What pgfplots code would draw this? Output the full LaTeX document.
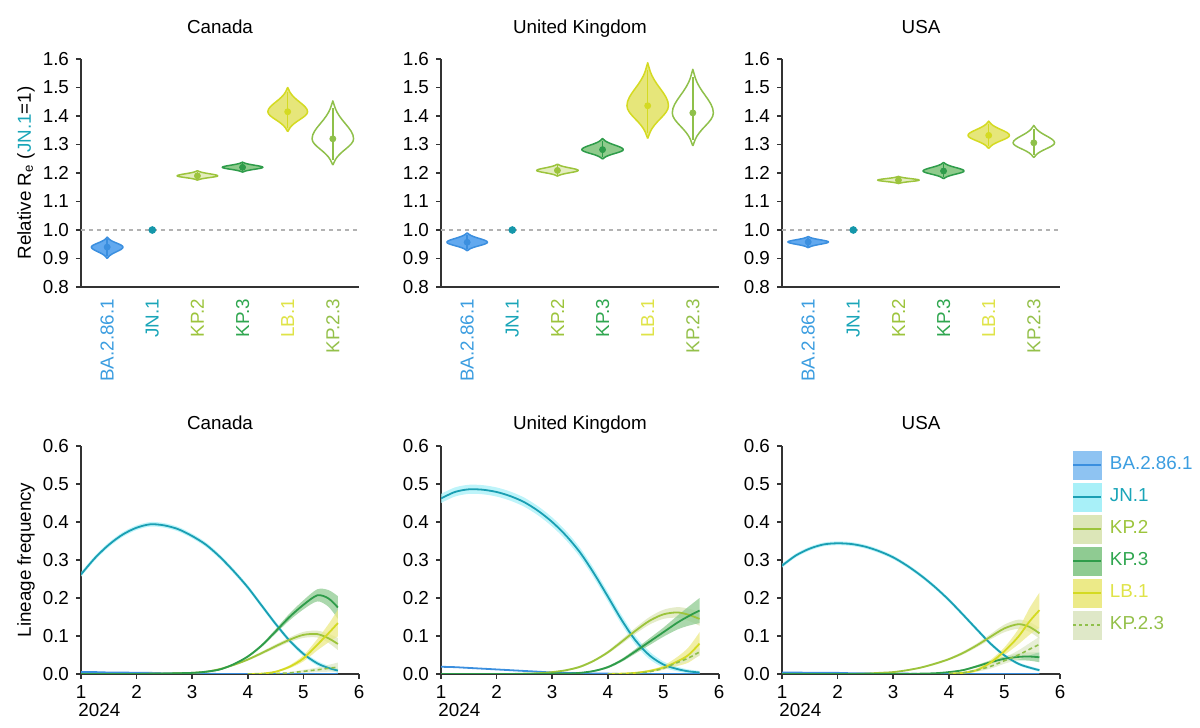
\documentclass[border=0pt]{standalone}
\usepackage{fontspec}
\setmainfont{Liberation Sans}
\usepackage{pgfplots}
\pgfplotsset{compat=1.18}
\usepackage{pgfplotstable}

\definecolor{axc}{HTML}{333333}
\definecolor{bal}{HTML}{3B8FDF}
\definecolor{baf}{HTML}{62A9EF}
\definecolor{bab}{HTML}{8EC3F2}
\definecolor{bat}{HTML}{3B9DE0}
\definecolor{jnl}{HTML}{1A9FB3}
\definecolor{jnd}{HTML}{1597AA}
\definecolor{jnb}{HTML}{A8F0F8}
\definecolor{jnt}{HTML}{1AA5B8}
\definecolor{kp2l}{HTML}{9CC43C}
\definecolor{kp2f}{HTML}{E4EDBF}
\definecolor{kp2b}{HTML}{DCE6B8}
\definecolor{kp2t}{HTML}{9CC43C}
\definecolor{kp3l}{HTML}{2E9C4A}
\definecolor{kp3f}{HTML}{8FCB8C}
\definecolor{kp3b}{HTML}{8FCB92}
\definecolor{kp3t}{HTML}{2FA64F}
\definecolor{lbl}{HTML}{D4DA22}
\definecolor{lbf}{HTML}{E6E67A}
\definecolor{lbb}{HTML}{ECEA88}
\definecolor{lbt}{HTML}{DFE347}
\definecolor{k23l}{HTML}{8FC04A}
\definecolor{k23b}{HTML}{DFE8C8}
\definecolor{k23t}{HTML}{94C04A}

\newcommand\fsz{\fontsize{9.4pt}{11pt}\selectfont}

% normalised violin outline (t in sigma units, f relative half-width)
\pgfplotstableread{
t f
-2.5 0
-2.25 0.060
-2 0.120
-1.75 0.205
-1.5 0.318
-1.25 0.452
-1 0.603
-0.75 0.752
-0.5 0.881
-0.25 0.969
0 1
0.25 0.969
0.5 0.881
0.75 0.752
1 0.603
1.25 0.452
1.5 0.318
1.75 0.205
2 0.120
2.25 0.060
2.5 0
2.25 -0.060
2 -0.120
1.75 -0.205
1.5 -0.318
1.25 -0.452
1 -0.603
0.75 -0.752
0.5 -0.881
0.25 -0.969
0 -1
-0.25 -0.969
-0.5 -0.881
-0.75 -0.752
-1 -0.603
-1.25 -0.452
-1.5 -0.318
-1.75 -0.205
-2 -0.120
-2.25 -0.060
-2.5 0
}\vshape
\pgfplotstableread{
t f
-2.05 0
2.05 0
}\vint

\pgfplotstableread{
x ba jn jne kp2 kp2e kp3 kp3e lb lbe k23 k23e
1 0.005 0.262 0.006 0 0 0 0 0 0 0 0
1.25 0.005 0.305 0.006 0 0 0 0 0 0 0 0
1.5 0.004 0.340 0.006 0 0 0 0 0 0 0 0
1.75 0.004 0.367 0.006 0 0 0 0 0 0 0 0
2 0.003 0.385 0.006 0 0 0 0 0 0 0 0
2.25 0.003 0.394 0.006 0.001 0 0 0 0 0 0 0
2.5 0.002 0.391 0.006 0.001 0 0.001 0 0 0 0 0
2.75 0.002 0.381 0.006 0.002 0.001 0.002 0.001 0 0 0 0
3 0.001 0.363 0.006 0.003 0.001 0.003 0.001 0 0 0 0
3.25 0.001 0.340 0.006 0.006 0.001 0.006 0.001 0 0 0 0
3.5 0 0.308 0.006 0.013 0.002 0.012 0.002 0 0 0 0
3.75 0 0.270 0.006 0.024 0.002 0.026 0.002 0 0 0 0
4 0 0.228 0.006 0.038 0.003 0.046 0.003 0 0 0 0
4.25 0 0.180 0.006 0.055 0.004 0.075 0.004 0.001 0.001 0 0
4.5 0 0.132 0.006 0.073 0.005 0.112 0.006 0.006 0.002 0.001 0.001
4.75 0 0.088 0.006 0.090 0.006 0.150 0.009 0.019 0.004 0.003 0.002
5 0 0.053 0.006 0.103 0.008 0.182 0.012 0.041 0.008 0.007 0.004
5.25 0 0.028 0.006 0.105 0.009 0.207 0.016 0.077 0.015 0.011 0.006
5.45 0 0.016 0.006 0.094 0.012 0.199 0.022 0.107 0.024 0.015 0.009
5.62 0 0.009 0.006 0.079 0.016 0.175 0.030 0.134 0.035 0.018 0.012
}\canada

\pgfplotstableread{
x ba jn jne kp2 kp2e kp3 kp3e lb lbe k23 k23e
1 0.019 0.462 0.012 0 0 0 0 0 0 0 0
1.25 0.018 0.479 0.012 0 0 0 0 0 0 0 0
1.5 0.016 0.486 0.012 0 0 0 0 0 0 0 0
1.75 0.014 0.485 0.012 0 0 0 0 0 0 0 0
2 0.012 0.479 0.012 0 0 0 0 0 0 0 0
2.25 0.010 0.468 0.012 0 0 0 0 0 0 0 0
2.5 0.008 0.452 0.012 0.001 0 0 0 0 0 0 0
2.75 0.006 0.429 0.012 0.002 0.001 0 0 0 0 0 0
3 0.004 0.400 0.012 0.005 0.001 0.001 0 0 0 0 0
3.25 0.003 0.364 0.012 0.010 0.002 0.001 0.001 0 0 0 0
3.5 0.002 0.320 0.012 0.019 0.003 0.003 0.001 0 0 0 0
3.75 0.001 0.265 0.012 0.035 0.003 0.008 0.002 0 0 0 0
4 0.001 0.204 0.012 0.057 0.004 0.018 0.003 0 0 0 0
4.25 0 0.142 0.012 0.085 0.006 0.036 0.004 0.001 0.001 0 0
4.5 0 0.088 0.011 0.114 0.008 0.060 0.006 0.003 0.002 0.002 0.001
4.75 0 0.049 0.010 0.140 0.010 0.085 0.009 0.008 0.003 0.006 0.002
5 0 0.025 0.008 0.157 0.012 0.110 0.012 0.017 0.005 0.015 0.004
5.25 0 0.013 0.006 0.162 0.014 0.135 0.018 0.033 0.012 0.030 0.006
5.45 0 0.007 0.005 0.156 0.016 0.152 0.025 0.050 0.020 0.042 0.008
5.65 0 0.004 0.004 0.145 0.018 0.167 0.033 0.080 0.030 0.058 0.010
}\ukdata

\pgfplotstableread{
x ba jn jne kp2 kp2e kp3 kp3e lb lbe k23 k23e
1 0.004 0.285 0.005 0 0 0 0 0 0 0 0
1.25 0.004 0.312 0.005 0 0 0 0 0 0 0 0
1.5 0.003 0.330 0.005 0 0 0 0 0 0 0 0
1.75 0.003 0.341 0.005 0 0 0 0 0 0 0 0
2 0.003 0.344 0.005 0 0 0 0 0 0 0 0
2.25 0.002 0.342 0.005 0 0 0 0 0 0 0 0
2.5 0.002 0.335 0.005 0.001 0 0 0 0 0 0 0
2.75 0.001 0.323 0.005 0.003 0.001 0 0 0 0 0 0
3 0.001 0.307 0.005 0.005 0.001 0 0 0 0 0 0
3.25 0.001 0.285 0.005 0.010 0.002 0 0 0 0 0 0
3.5 0 0.259 0.005 0.017 0.002 0.001 0 0 0 0 0
3.75 0 0.229 0.005 0.027 0.003 0.002 0.001 0 0 0 0
4 0 0.195 0.005 0.039 0.003 0.005 0.001 0.001 0.001 0 0
4.25 0 0.157 0.005 0.055 0.004 0.010 0.002 0.003 0.002 0.003 0.002
4.5 0 0.118 0.005 0.075 0.005 0.020 0.003 0.010 0.004 0.010 0.004
4.75 0 0.080 0.005 0.098 0.007 0.031 0.005 0.030 0.007 0.020 0.006
5 0 0.049 0.004 0.120 0.010 0.040 0.006 0.060 0.010 0.035 0.008
5.25 0 0.027 0.004 0.131 0.012 0.045 0.009 0.098 0.020 0.050 0.012
5.45 0 0.017 0.004 0.124 0.013 0.046 0.011 0.138 0.035 0.065 0.016
5.63 0 0.010 0.004 0.107 0.014 0.044 0.013 0.168 0.046 0.078 0.020
}\usadata

% violin: cat, median, low end, high end, half width, fill, outline, line/dot colour
\newcommand\violin[8]{%
 \addplot[fill=#6, draw=#7, line width=0.75pt, line join=round]
   table[x expr={#1+#5*\thisrow{f}}, y expr={#2+\thisrow{t}*((\thisrow{t}<0) ? ((#2-#3)/2.5) : ((#4-#2)/2.5))}] {\vshape};
 \addplot[draw=#8, line width=0.75pt]
   table[x expr={#1}, y expr={#2+\thisrow{t}*((\thisrow{t}<0) ? ((#2-#3)/2.5) : ((#4-#2)/2.5))}] {\vint};
 \addplot[only marks, mark=*, mark size=1.5pt, color=#8] coordinates {(#1,#2)};
}

% band (stacked): table, column, error column, fill
\newcommand\band[4]{%
 \addplot[stack plots=y, draw=none, forget plot, smooth] table[x=x, y expr=\thisrow{#2}-\thisrow{#3}] {#1};
 \addplot[stack plots=y, fill=#4, fill opacity=0.75, draw=none, forget plot, smooth] table[x=x, y expr=2*\thisrow{#3}] {#1} \closedcycle;
 \addplot[stack plots=y, draw=none, forget plot, smooth] table[x=x, y expr=-\thisrow{#2}-\thisrow{#3}] {#1};
}

\newcommand\freqplots[1]{%
 \band{#1}{jn}{jne}{jnb}
 \band{#1}{kp2}{kp2e}{kp2b}
 \band{#1}{kp3}{kp3e}{kp3b}
 \band{#1}{lb}{lbe}{lbb}
 \band{#1}{k23}{k23e}{k23b}
 \addplot[bal, line width=0.9pt, smooth, forget plot] table[x=x, y=ba] {#1};
 \addplot[jnl, line width=0.9pt, smooth, forget plot] table[x=x, y=jn] {#1};
 \addplot[kp2l, line width=0.9pt, smooth, forget plot] table[x=x, y=kp2] {#1};
 \addplot[kp3l, line width=0.9pt, smooth, forget plot] table[x=x, y=kp3] {#1};
 \addplot[lbl, line width=0.9pt, smooth, forget plot, restrict x to domain=4:6] table[x=x, y=lb] {#1};
 \addplot[k23l, line width=0.8pt, smooth, forget plot, dash pattern=on 2pt off 1.5pt, restrict x to domain=4:6] table[x=x, y=k23] {#1};
}

\pgfplotsset{
 common/.style={
   scale only axis, width=139pt, height=114pt,
   clip mode=individual,
   axis lines=left, axis line style={-, line width=0.8pt, draw=axc},
   tick align=outside, major tick length=2.5pt,
   tick style={draw=axc, line width=0.8pt},
   tick label style={font=\fsz},
   /pgf/number format/assume math mode=true,
   label style={font=\fsz},
   title style={font=\fsz, at={(0.5,1)}, anchor=base},
   anchor=south west,
 },
 vstyle/.style={common,
   xmin=-0.58, xmax=5.58, ymin=0.8, ymax=1.6,
   xtick={0,1,2,3,4,5},
   xticklabels={\textcolor{bat}{BA.2.86.1},\textcolor{jnt}{JN.1},\textcolor{kp2t}{KP.2},\textcolor{kp3t}{KP.3},\textcolor{lbt}{LB.1},\textcolor{k23t}{KP.2.3}},
   x tick style={draw=none},
   xticklabel style={rotate=90, anchor=east},
   ytick={0.8,0.9,1.0,1.1,1.2,1.3,1.4,1.5,1.6},
   yticklabel style={/pgf/number format/.cd, fixed, fixed zerofill, precision=1},
   title style={yshift=7pt},
   ylabel style={at={(axis description cs:-0.198,0.5)}, anchor=center},
 },
 fstyle/.style={common,
   xmin=1, xmax=6, ymin=0, ymax=0.6,
   xtick={1,2,3,4,5,6}, xticklabels={1,2,3,4,5,6},
   xticklabel style={inner sep=0pt, yshift=-3pt},
   ytick={0,0.1,0.2,0.3,0.4,0.5,0.6},
   yticklabel style={/pgf/number format/.cd, fixed, fixed zerofill, precision=1},
   title style={yshift=2.5pt},
   ylabel style={at={(axis description cs:-0.198,0.5)}, anchor=center},
 },
}

\begin{document}
\begin{tikzpicture}
\path[use as bounding box] (0,0) rectangle (600pt,364pt);

% ---------------- top row: relative Re ----------------
\begin{axis}[vstyle, at={(40.5pt,220.5pt)}, title={Canada},
  ylabel={Relative R\textsubscript{e} (\textcolor{jnt}{JN.1}=1)}]
 \addplot[color=black!30, line width=0.6pt, dash pattern=on 2pt off 2pt] coordinates {(-0.58,1) (5.58,1)};
 \violin{0}{0.94}{0.90}{0.975}{0.35}{baf}{bal}{bal}
 \addplot[only marks, mark=*, mark size=1.7pt, color=jnd] coordinates {(1,1.0)};
 \violin{2}{1.19}{1.175}{1.208}{0.45}{kp2f}{kp2l}{kp2l}
 \violin{3}{1.22}{1.203}{1.238}{0.45}{kp3f}{kp3l}{kp3l}
 \violin{4}{1.415}{1.345}{1.50}{0.44}{lbf}{lbl}{lbl}
 \violin{5}{1.32}{1.228}{1.453}{0.46}{white}{k23l}{k23l}
\end{axis}

\begin{axis}[vstyle, at={(220.5pt,220.5pt)}, title={United Kingdom}]
 \addplot[color=black!30, line width=0.6pt, dash pattern=on 2pt off 2pt] coordinates {(-0.58,1) (5.58,1)};
 \violin{0}{0.957}{0.927}{0.99}{0.45}{baf}{bal}{bal}
 \addplot[only marks, mark=*, mark size=1.7pt, color=jnd] coordinates {(1,1.0)};
 \violin{2}{1.209}{1.189}{1.231}{0.46}{kp2f}{kp2l}{kp2l}
 \violin{3}{1.282}{1.249}{1.321}{0.46}{kp3f}{kp3l}{kp3l}
 \violin{4}{1.436}{1.321}{1.587}{0.46}{lbf}{lbl}{lbl}
 \violin{5}{1.411}{1.295}{1.564}{0.455}{white}{k23l}{k23l}
\end{axis}

\begin{axis}[vstyle, at={(391pt,220.5pt)}, title={USA}]
 \addplot[color=black!30, line width=0.6pt, dash pattern=on 2pt off 2pt] coordinates {(-0.58,1) (5.58,1)};
 \violin{0}{0.958}{0.938}{0.977}{0.45}{baf}{bal}{bal}
 \addplot[only marks, mark=*, mark size=1.7pt, color=jnd] coordinates {(1,1.0)};
 \violin{2}{1.175}{1.163}{1.188}{0.46}{kp2f}{kp2l}{kp2l}
 \violin{3}{1.207}{1.18}{1.237}{0.455}{kp3f}{kp3l}{kp3l}
 \violin{4}{1.332}{1.286}{1.382}{0.46}{lbf}{lbl}{lbl}
 \violin{5}{1.306}{1.254}{1.367}{0.46}{white}{k23l}{k23l}
\end{axis}

% ---------------- bottom row: lineage frequency ----------------
\begin{axis}[fstyle, at={(40.5pt,27pt)}, title={Canada}, ylabel={Lineage frequency}]
 \freqplots{\canada}
 \node[anchor=north west, inner sep=0pt, font=\fsz] at (axis cs:1,0) [yshift=-14.5pt, xshift=-1.5pt] {2024};
\end{axis}

\begin{axis}[fstyle, at={(220.5pt,27pt)}, title={United Kingdom}]
 \freqplots{\ukdata}
 \node[anchor=north west, inner sep=0pt, font=\fsz] at (axis cs:1,0) [yshift=-14.5pt, xshift=-1.5pt] {2024};
\end{axis}

\begin{axis}[fstyle, at={(391pt,27pt)}, title={USA},
  legend style={at={(axis description cs:1.043,0.982)}, anchor=north west, draw=none, fill=none,
    inner sep=0pt, row sep=1.6pt, font=\fsz, nodes={inner sep=1pt},
    /tikz/every odd column/.append style={column sep=3pt}},
  legend cell align=left]
 \freqplots{\usadata}
 \node[anchor=north west, inner sep=0pt, font=\fsz] at (axis cs:1,0) [yshift=-14.5pt, xshift=-1.5pt] {2024};
 \addlegendimage{legend image code/.code={\fill[bab] (0pt,-7pt) rectangle (14pt,7pt); \draw[bal, line width=0.8pt] (0pt,0pt) -- (14pt,0pt);}}
 \addlegendentry{\textcolor{bat}{BA.2.86.1}}
 \addlegendimage{legend image code/.code={\fill[jnb] (0pt,-7pt) rectangle (14pt,7pt); \draw[jnl, line width=0.8pt] (0pt,0pt) -- (14pt,0pt);}}
 \addlegendentry{\textcolor{jnt}{JN.1}}
 \addlegendimage{legend image code/.code={\fill[kp2b] (0pt,-7pt) rectangle (14pt,7pt); \draw[kp2l, line width=0.8pt] (0pt,0pt) -- (14pt,0pt);}}
 \addlegendentry{\textcolor{kp2t}{KP.2}}
 \addlegendimage{legend image code/.code={\fill[kp3b] (0pt,-7pt) rectangle (14pt,7pt); \draw[kp3l, line width=0.8pt] (0pt,0pt) -- (14pt,0pt);}}
 \addlegendentry{\textcolor{kp3t}{KP.3}}
 \addlegendimage{legend image code/.code={\fill[lbb] (0pt,-7pt) rectangle (14pt,7pt); \draw[lbl, line width=0.8pt] (0pt,0pt) -- (14pt,0pt);}}
 \addlegendentry{\textcolor{lbt}{LB.1}}
 \addlegendimage{legend image code/.code={\fill[k23b] (0pt,-7pt) rectangle (14pt,7pt); \draw[k23l, line width=0.8pt, dash pattern=on 1.5pt off 1.5pt] (0pt,0pt) -- (14pt,0pt);}}
 \addlegendentry{\textcolor{k23t}{KP.2.3}}
\end{axis}
\end{tikzpicture}
\end{document}
